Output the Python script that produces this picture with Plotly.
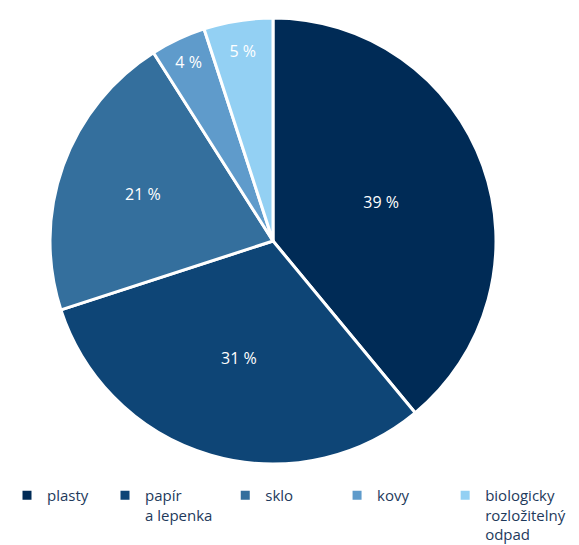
import plotly.graph_objects as go

# Composition of collected waste (share in %)
categories = ["plasty", "papír<br>a lepenka", "sklo", "kovy", "biologicky<br>rozložitelný<br>odpad"]
shares = [39, 31, 21, 4, 5]
colors = ["#002b56", "#0e4576", "#346f9d", "#5f9bcb", "#93d0f3"]

# trailing non-breaking spaces widen the short legend entries into even columns
legend_pad = [3, 2, 10, 8, 0]
legend_labels = [c + "\u00a0" * n for c, n in zip(categories, legend_pad)]

W, H = 579, 545
BOTTOM = 66          # space reserved under the plot area for the legend
PLOT_H = H - BOTTOM

fig = go.Figure(
    go.Pie(
        labels=legend_labels,
        values=shares,
        customdata=[c.replace("<br>", " ") for c in categories],
        hovertemplate="%{customdata}: %{value} %<extra></extra>",
        sort=False,
        direction="clockwise",
        rotation=0,
        marker=dict(colors=colors, line=dict(color="white", width=3)),
        texttemplate="%{value} %",
        textposition="inside",
        insidetextorientation="horizontal",
        textfont=dict(family="Open Sans", size=16, color="white"),
        domain=dict(x=[50 / W, 496 / W], y=[1 - 464 / PLOT_H, 1 - 18 / PLOT_H]),
    )
)

fig.update_layout(
    width=W,
    height=H,
    margin=dict(l=0, r=0, t=0, b=BOTTOM, autoexpand=False),
    paper_bgcolor="white",
    showlegend=True,
    legend=dict(
        orientation="h",
        x=7 / W,
        xanchor="left",
        y=0,
        yanchor="top",
        valign="top",
        bgcolor="rgba(0,0,0,0)",
        font=dict(family="Open Sans", size=15, color="#1e3a5c"),
        traceorder="normal",
    ),
)

fig.write_html("out.html")
